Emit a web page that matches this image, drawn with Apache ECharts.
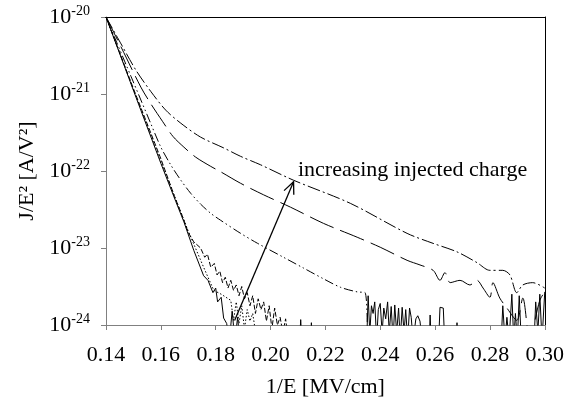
<!DOCTYPE html>
<html>
<head>
<meta charset="utf-8">
<title>Fowler-Nordheim plot</title>
<script src="https://cdn.jsdelivr.net/npm/echarts@6/dist/echarts.min.js"></script>
<style>
  html, body { margin: 0; padding: 0; background: #fff; }
  #chart { width: 567px; height: 407px; }
</style>
</head>
<body>
<div id="chart"></div>
<script>
// 1/E [MV/cm] on x; J/E^2 [A/V^2] on y, stored as log10 values (decade scale).

// Fresh oxide (solid)
const freshX = [0.1400, 0.1527, 0.1600, 0.1655, 0.1684, 0.1720, 0.1756, 0.1772, 0.1790, 0.1800, 0.1807, 0.1820, 0.1829, 0.1840,
  0.1850, 0.1860, 0.1870, 0.1880, 0.1890, 0.2105, 0.2110, 0.2116, 0.2145, 0.2149, 0.2153,
  0.2350, 0.2356, 0.2362, 0.2368, 0.2374, 0.2380, 0.2387, 0.2393, 0.2400, 0.2407, 0.2413, 0.2420, 0.2427, 0.2433,
  0.2440, 0.2447, 0.2453, 0.2460, 0.2467, 0.2473, 0.2480, 0.2487, 0.2493, 0.2500, 0.2507, 0.2513, 0.2520,
  0.2530, 0.2537, 0.2545, 0.2556, 0.2578, 0.2582, 0.2587, 0.2612, 0.2618, 0.2630, 0.2636, 0.2676, 0.2680, 0.2684,
  0.2840, 0.2847, 0.2855, 0.2862, 0.2870, 0.2880, 0.2887, 0.2893, 0.2900, 0.2907, 0.2913, 0.2920,
  0.2960, 0.2967, 0.2975, 0.2982, 0.2990, 0.3000];
const freshLog = [-20.00, -21.21, -21.90, -22.40, -22.66, -23.03, -23.36, -23.42, -23.58, -23.52, -23.70, -23.64, -23.91, -23.98,
  -24.20, -23.82, -24.20, -23.90, -24.30, -24.30, -23.93, -24.30, -24.30, -23.97, -24.30,
  -24.30, -23.62, -24.10, -23.75, -23.85, -23.70, -24.20, -23.80, -23.72, -24.10, -23.78, -23.92, -23.70, -24.10,
  -23.76, -24.20, -23.74, -24.10, -23.78, -24.20, -23.77, -24.10, -23.80, -24.20, -23.78, -23.90, -24.20,
  -23.92, -23.88, -23.95, -24.30, -24.30, -23.87, -24.30, -24.30, -23.77, -23.78, -24.30, -24.30, -23.97, -24.30,
  -24.30, -23.75, -24.20, -23.90, -24.20, -23.60, -24.20, -23.85, -24.20, -23.62, -24.10, -24.30,
  -24.30, -23.70, -24.10, -23.60, -24.20, -23.57];

// First stress step (dotted)
const stress1X = [0.1400, 0.1500, 0.1600, 0.1650, 0.1700, 0.1756, 0.1793, 0.1820, 0.1855, 0.1865, 0.1875, 0.1885, 0.1895,
  0.1905, 0.1915, 0.1925, 0.1935, 0.1950];
const stress1Log = [-20.00, -20.94, -21.87, -22.33, -22.78, -23.25, -23.55, -23.60, -23.68, -23.94, -23.70, -23.98, -23.75,
  -24.05, -23.80, -23.95, -23.85, -24.20];

// Second stress step (short dash)
const stress2X = [0.1400, 0.1500, 0.1600, 0.1650, 0.1680, 0.1700, 0.1720, 0.1745, 0.1760, 0.1770, 0.1782, 0.1795, 0.1805,
  0.1815, 0.1825, 0.1835, 0.1845, 0.1855, 0.1865, 0.1875, 0.1885, 0.1895, 0.1905, 0.1915, 0.1925, 0.1935, 0.1945,
  0.1955, 0.1965, 0.1975, 0.1985, 0.1995, 0.2005, 0.2015, 0.2025, 0.2035, 0.2045, 0.2055, 0.2065];
const stress2Log = [-20.00, -20.93, -21.84, -22.33, -22.60, -22.80, -22.92, -23.00, -23.12, -23.08, -23.25, -23.20, -23.35,
  -23.30, -23.45, -23.38, -23.52, -23.42, -23.55, -23.48, -23.62, -23.50, -23.66, -23.58, -23.75, -23.62, -23.85,
  -23.66, -23.80, -23.70, -23.95, -23.75, -24.05, -23.78, -24.00, -23.90, -24.10, -23.92, -24.20];

// Third stress step (dash-dot-dot)
const stress3X = [0.1400, 0.1491, 0.1564, 0.1600, 0.1636, 0.1673, 0.1709, 0.1745, 0.1782, 0.1818, 0.1891, 0.1953,
  0.2047, 0.2120, 0.2193, 0.2255, 0.2316, 0.2345, 0.2353];
const stress3Log = [-20.00, -20.77, -21.39, -21.69, -21.92, -22.12, -22.29, -22.43, -22.55, -22.64, -22.81, -22.94,
  -23.12, -23.26, -23.40, -23.51, -23.57, -23.58, -24.10];

// Fourth stress step (long dash)
const stress4X = [0.1400, 0.1455, 0.1527, 0.1564, 0.1607, 0.1644, 0.1684, 0.1727, 0.1782, 0.1818, 0.1891, 0.1975, 0.2073,
  0.2193, 0.2316, 0.2400, 0.2498, 0.2545, 0.2593, 0.2618, 0.2636, 0.2655, 0.2691, 0.2727, 0.2753, 0.2775, 0.2800,
  0.2811, 0.2836, 0.2862, 0.2898, 0.2920, 0.2945, 0.2982, 0.3000];
const stress4Log = [-20.00, -20.39, -20.91, -21.13, -21.36, -21.55, -21.69, -21.82, -21.94, -22.01, -22.16, -22.31, -22.47,
  -22.68, -22.86, -22.99, -23.16, -23.22, -23.29, -23.42, -23.32, -23.45, -23.42, -23.48, -23.42, -23.52, -23.64,
  -23.45, -23.65, -23.78, -23.94, -23.65, -24.17, -23.68, -23.57];

// Fifth stress step (dash-dot)
const stress5X = [0.1400, 0.1455, 0.1509, 0.1564, 0.1618, 0.1673, 0.1745, 0.1829, 0.1891, 0.1964, 0.2084, 0.2291, 0.2498,
  0.2593, 0.2680, 0.2753, 0.2800, 0.2847, 0.2873, 0.2898, 0.2920, 0.2956, 0.3000];
const stress5Log = [-20.00, -20.35, -20.69, -20.97, -21.21, -21.38, -21.56, -21.70, -21.81, -21.92, -22.12, -22.42, -22.81,
  -22.94, -23.05, -23.19, -23.29, -23.29, -23.35, -23.58, -23.48, -23.45, -23.52];

// Axis ticks (y ticks are decade exponents)
const xTicks = [0.14, 0.16, 0.18, 0.20, 0.22, 0.24, 0.26, 0.28, 0.30];
const yTickExponents = [-24, -23, -22, -21, -20];

// Annotation arrow and its caption
const arrowFrom = [0.1869, -23.94];
const arrowTo = [0.2084, -22.14];
const noteAt = [0.2100, -21.99];
const noteText = 'increasing injected charge';

const FONT = '"Liberation Serif", "Times New Roman", serif';

function points(xs, logs) {
  return xs.map(function (x, i) { return [x, logs[i]]; });
}

function curve(name, xs, logs, dash, smooth) {
  return {
    name: name,
    type: 'line',
    data: points(xs, logs),
    showSymbol: false,
    symbol: 'none',
    smooth: smooth || false,
    clip: true,
    animation: false,
    lineStyle: { color: '#000', width: 1, type: dash }
  };
}

const chart = echarts.init(document.getElementById('chart'), null, { renderer: 'canvas' });

chart.setOption({
  animation: false,
  backgroundColor: '#fff',
  grid: { left: 106, right: 22, top: 17, bottom: 82 },
  xAxis: [{
    type: 'value',
    min: xTicks[0],
    max: xTicks[xTicks.length - 1],
    interval: 0.02,
    position: 'bottom',
    axisLine: { show: true, onZero: false, lineStyle: { color: '#808080', width: 1 } },
    axisTick: { show: true, inside: false, length: 5, lineStyle: { color: '#808080' } },
    splitLine: { show: false },
    axisLabel: {
      margin: 19,
      fontFamily: FONT, fontSize: 22, color: '#000',
      formatter: function (v) { return v.toFixed(2); }
    },
    name: '1/E [MV/cm]',
    nameLocation: 'middle',
    nameGap: 51,
    nameTextStyle: { fontFamily: FONT, fontSize: 22, color: '#000' }
  }, {
    type: 'value',
    min: xTicks[0],
    max: xTicks[xTicks.length - 1],
    position: 'top',
    axisLine: { show: true, onZero: false, lineStyle: { color: '#000', width: 1 } },
    axisTick: { show: false },
    axisLabel: { show: false },
    splitLine: { show: false }
  }],
  yAxis: [{
    type: 'value',
    min: yTickExponents[0],
    max: yTickExponents[yTickExponents.length - 1],
    interval: 1,
    position: 'left',
    axisLine: { show: true, onZero: false, lineStyle: { color: '#808080', width: 1 } },
    axisTick: { show: true, inside: false, length: 5, lineStyle: { color: '#808080' } },
    splitLine: { show: false },
    axisLabel: {
      margin: 16,
      formatter: function (v) {
        return '{b|10}{s|' + Math.round(v) + '}';
      },
      rich: {
        b: { fontFamily: FONT, fontSize: 22, color: '#000', lineHeight: 25 },
        s: { fontFamily: FONT, fontSize: 14, color: '#000', lineHeight: 15, verticalAlign: 'top' }
      }
    },
    name: 'J/E\u00B2 [A/V\u00B2]',
    nameLocation: 'middle',
    nameRotate: 90,
    nameGap: 57,
    nameTextStyle: { fontFamily: FONT, fontSize: 22, color: '#000' }
  }, {
    type: 'value',
    min: 0,
    max: 1,
    position: 'right',
    axisLine: { show: true, onZero: false, lineStyle: { color: '#000', width: 1 } },
    axisTick: { show: false },
    axisLabel: { show: false },
    splitLine: { show: false }
  }],
  series: [
    curve('fresh', freshX, freshLog, 'solid'),
    curve('stress 1', stress1X, stress1Log, [1.5, 2]),
    curve('stress 2', stress2X, stress2Log, [5, 2]),
    curve('stress 3', stress3X, stress3Log, [9, 3, 1.5, 3, 1.5, 3], 0.3),
    curve('stress 4', stress4X, stress4Log, [26, 7], 0.3),
    curve('stress 5', stress5X, stress5Log, [13, 3, 2, 3], 0.3),
    {
      name: 'annotation',
      type: 'custom',
      coordinateSystem: 'cartesian2d',
      clip: false,
      silent: true,
      data: [[arrowTo[0], arrowTo[1]]],
      renderItem: function (params, api) {
        const p0 = api.coord(arrowFrom);
        const p1 = api.coord(arrowTo);
        const ang = Math.atan2(p1[1] - p0[1], p1[0] - p0[0]);
        const len = 13, spread = 0.42;
        const h1 = [p1[0] - len * Math.cos(ang - spread), p1[1] - len * Math.sin(ang - spread)];
        const h2 = [p1[0] - len * Math.cos(ang + spread), p1[1] - len * Math.sin(ang + spread)];
        const t = api.coord(noteAt);
        return {
          type: 'group',
          children: [
            { type: 'line', shape: { x1: p0[0], y1: p0[1], x2: p1[0], y2: p1[1] },
              style: { stroke: '#000', lineWidth: 1.3 } },
            { type: 'polyline', shape: { points: [h1, p1, h2] },
              style: { stroke: '#000', fill: null, lineWidth: 1.3 } },
            { type: 'text', x: t[0], y: t[1],
              style: { text: noteText, fill: '#000', fontFamily: FONT, fontSize: 22,
                       align: 'left', verticalAlign: 'middle' } }
          ]
        };
      }
    }
  ]
});
</script>
</body>
</html>
